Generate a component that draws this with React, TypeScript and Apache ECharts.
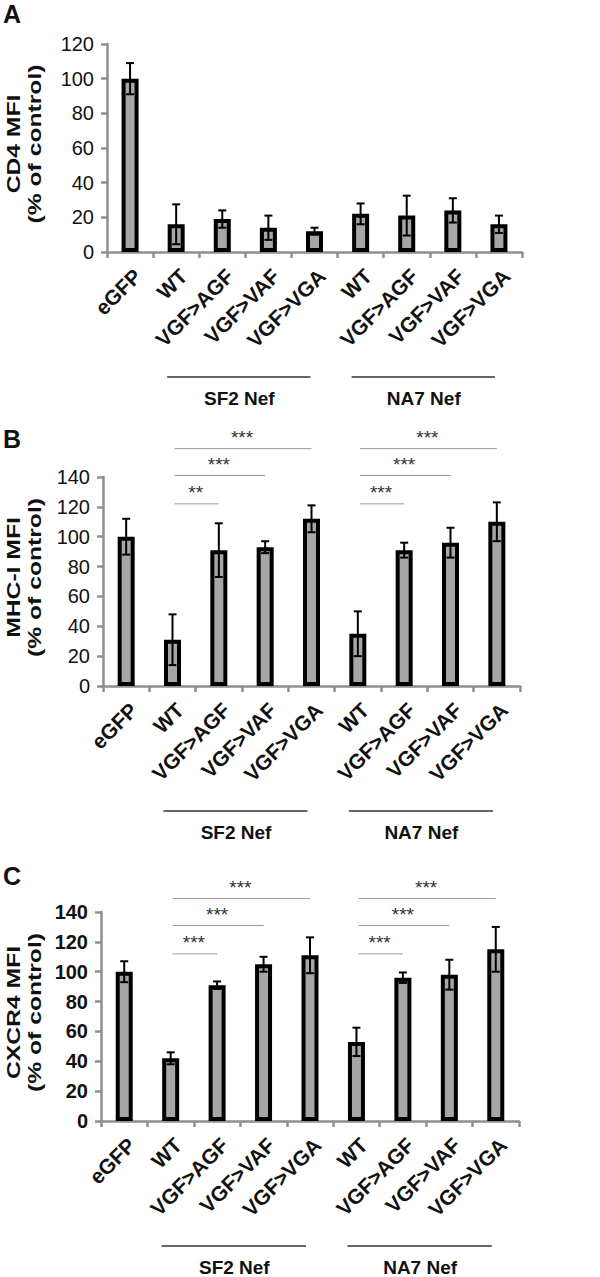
import React, { useEffect, useRef } from "react";
import * as echarts from "echarts";

// ---------- data ----------
const categories = ["eGFP", "WT", "VGF>AGF", "VGF>VAF", "VGF>VGA", "WT", "VGF>AGF", "VGF>VAF", "VGF>VGA"];

const cd4Values = [100, 16, 19, 14, 12, 22, 21, 24, 16];
const cd4Errors = [9, 11.5, 5, 7, 2, 6, 11.5, 7, 5];

const mhcValues = [100, 31, 91, 93, 112, 35, 91, 96, 110];
const mhcErrors = [12, 17, 18, 4, 9, 15, 5, 10, 13];

const cxcrValues = [100, 42, 91, 105, 111, 53, 96, 98, 115];
const cxcrErrors = [7, 4, 2.5, 5, 12, 9.5, 3.5, 10, 15];

const cd4Ticks = [0, 20, 40, 60, 80, 100, 120];
const mhcTicks = [0, 20, 40, 60, 80, 100, 120, 140];
const cxcrTicks = [0, 20, 40, 60, 80, 100, 120, 140];

// group label: name, first category index, last category index
const groupNames = ["SF2 Nef", "NA7 Nef"];
const groupFrom = [1, 5];
const groupTo = [4, 8];

// significance brackets: [from index, to index, level (axis units)]
const mhcSigSpans = [[1, 2, 122], [1, 3, 141], [1, 4, 159], [5, 6, 122], [5, 7, 141], [5, 8, 159]];
const mhcSigLabels = ["**", "***", "***", "***", "***", "***"];
const cxcrSigSpans = [[1, 2, 112], [1, 3, 131], [1, 4, 149], [5, 6, 112], [5, 7, 131], [5, 8, 149]];
const cxcrSigLabels = ["***", "***", "***", "***", "***", "***"];

// ---------- layout ----------
const FONT = '"Liberation Sans", Arial, Helvetica, sans-serif';
const AXIS_COLOR = "#8f8f8f";

const panels = [
  { letter: "A", letterY: 14, title: "CD4 MFI", values: cd4Values, errors: cd4Errors, ticks: cd4Ticks, spans: [] as number[][], labels: [] as string[], boldTicks: false, left: 107, right: 522, top: 44, bottom: 252 },
  { letter: "B", letterY: 439, title: "MHC-I MFI", values: mhcValues, errors: mhcErrors, ticks: mhcTicks, spans: mhcSigSpans, labels: mhcSigLabels, boldTicks: false, left: 103, right: 520, top: 477, bottom: 686 },
  { letter: "C", letterY: 876, title: "CXCR4 MFI", values: cxcrValues, errors: cxcrErrors, ticks: cxcrTicks, spans: cxcrSigSpans, labels: cxcrSigLabels, boldTicks: true, left: 101, right: 519, top: 912, bottom: 1121 },
];

export default function App() {
  const ref = useRef<HTMLDivElement>(null);

  useEffect(() => {
    if (!ref.current) return;
    const chart = echarts.init(ref.current, undefined, { renderer: "svg" });

    const grids: any[] = [];
    const xAxes: any[] = [];
    const yAxes: any[] = [];
    const series: any[] = [];

    panels.forEach((p, i) => {
      grids.push({ left: p.left, top: p.top, width: p.right - p.left, height: p.bottom - p.top, containLabel: false });
      xAxes.push({
        gridIndex: i,
        type: "category",
        data: categories,
        axisLine: { show: true, lineStyle: { color: AXIS_COLOR, width: 2.5 } },
        axisTick: { show: true, length: 6, lineStyle: { color: AXIS_COLOR, width: 2.5 } },
        axisLabel: { interval: 0, rotate: 45, margin: 13, fontSize: 21, fontWeight: "bold", color: "#111", fontFamily: FONT, verticalAlign: "top" },
      });
      const tmax = p.ticks[p.ticks.length - 1];
      yAxes.push({
        gridIndex: i,
        type: "value",
        min: p.ticks[0],
        max: tmax,
        interval: p.ticks[1] - p.ticks[0],
        splitLine: { show: false },
        axisLine: { show: true, lineStyle: { color: AXIS_COLOR, width: 2.5 } },
        axisTick: { show: true, length: 6, lineStyle: { color: AXIS_COLOR, width: 2.5 } },
        axisLabel: { margin: 13, fontSize: 20, color: "#111", fontFamily: FONT, fontWeight: p.boldTicks ? "bold" : "normal" },
      });
      series.push({
        type: "bar",
        xAxisIndex: i,
        yAxisIndex: i,
        data: p.values,
        barWidth: 17,
        itemStyle: { color: "#a6a6a6", borderColor: "#000", borderWidth: 4 },
        z: 2,
      });
      const errData = p.values.map((v, k) => [k, v - p.errors[k], v + p.errors[k]]);
      series.push({
        type: "custom",
        xAxisIndex: i,
        yAxisIndex: i,
        data: errData,
        encode: { x: 0, y: [1, 2] },
        z: 5,
        clip: false,
        renderItem: (params: any, api: any) => {
          const x = api.value(0);
          const lo = api.coord([x, api.value(1)]);
          const hi = api.coord([x, api.value(2)]);
          const w = 4;
          const st = { stroke: "#000", lineWidth: 2 };
          return {
            type: "group",
            children: [
              { type: "line", shape: { x1: hi[0], y1: hi[1], x2: lo[0], y2: lo[1] }, style: st },
              { type: "line", shape: { x1: hi[0] - w, y1: hi[1], x2: hi[0] + w, y2: hi[1] }, style: st },
              { type: "line", shape: { x1: lo[0] - w, y1: lo[1], x2: lo[0] + w, y2: lo[1] }, style: st },
            ],
          };
        },
      });
      if (p.spans.length) {
        series.push({
          type: "custom",
          xAxisIndex: i,
          yAxisIndex: i,
          data: p.spans,
          encode: { x: [0, 1], y: 2 },
          z: 5,
          clip: false,
          renderItem: (params: any, api: any) => {
            const a = api.coord([api.value(0), api.value(2)]);
            const b = api.coord([api.value(1), api.value(2)]);
            const short = api.value(1) - api.value(0) === 1;
            return {
              type: "group",
              children: [
                { type: "line", shape: { x1: a[0] + 2, y1: a[1], x2: b[0], y2: b[1] }, style: { stroke: short ? "#bdbdbd" : "#9a9a9a", lineWidth: short ? 1.5 : 1 } },
                { type: "text", x: (a[0] + b[0]) / 2, y: a[1] - 11, style: { text: p.labels[params.dataIndex], fill: "#333", font: `19px ${FONT}`, align: "center", verticalAlign: "middle" } },
              ],
            };
          },
        });
      }
    });

    chart.setOption({
      animation: false,
      backgroundColor: "#fff",
      grid: grids,
      xAxis: xAxes,
      yAxis: yAxes,
      series,
    });

    const graphics: any[] = [];
    panels.forEach((p, i) => {
      graphics.push({
        type: "text",
        x: 3,
        y: p.letterY,
        style: { text: p.letter, fill: "#111", font: `bold 25px ${FONT}`, align: "left", verticalAlign: "middle" },
      });
      graphics.push({
        type: "text",
        x: 24,
        y: (p.top + p.bottom) / 2 - 4,
        rotation: Math.PI / 2,
        scaleX: 1.3,
        style: { text: p.title + "\n(% of control)", fill: "#111", font: `bold 19px ${FONT}`, lineHeight: 21, align: "center", verticalAlign: "middle" },
      });
      groupNames.forEach((g, k) => {
        const x1 = chart.convertToPixel({ xAxisIndex: i } as any, groupFrom[k]) as unknown as number;
        const x2 = chart.convertToPixel({ xAxisIndex: i } as any, groupTo[k]) as unknown as number;
        const ly = p.bottom + 125;
        graphics.push({
          type: "line",
          shape: { x1: x1 - 9, y1: ly, x2: x2 - 4, y2: ly },
          style: { stroke: "#333", lineWidth: 1.5 },
        });
        graphics.push({
          type: "text",
          x: (x1 + x2) / 2 - 6,
          y: ly + 21,
          style: { text: g, fill: "#111", font: `bold 19px ${FONT}`, align: "center", verticalAlign: "middle" },
        });
      });
    });
    chart.setOption({ graphic: graphics });

    return () => chart.dispose();
  }, []);

  return (
    <div
      ref={ref}
      style={{ position: "absolute", left: 0, top: 0, width: 600, height: 1277, background: "#fff" }}
    />
  );
}
